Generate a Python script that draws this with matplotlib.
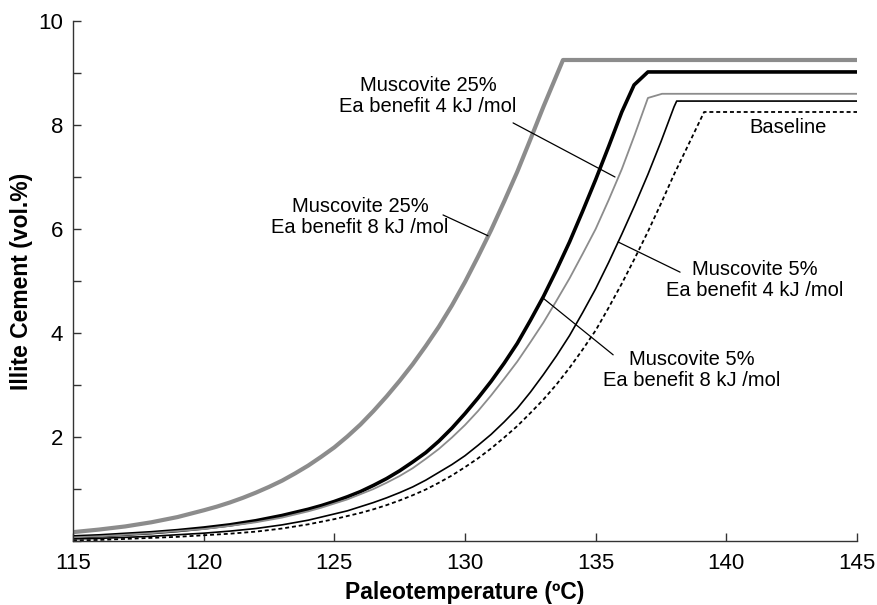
import matplotlib
matplotlib.use("Agg")
import matplotlib.pyplot as plt
from matplotlib.ticker import MultipleLocator

plt.rcParams['font.family'] = ['Liberation Sans', 'DejaVu Sans']

# paleotemperature (C) and illite cement (vol.%)
t_m25_8 = [115, 116, 117, 118, 119, 120, 120.5, 121, 121.5, 122, 122.5, 123,
           123.5, 124, 124.5, 125, 125.5, 126, 126.5, 127, 127.5, 128, 128.5,
           129, 129.5, 130, 130.5, 131, 131.5, 132, 132.5, 133, 133.75, 145]
v_m25_8 = [0.17, 0.22, 0.28, 0.36, 0.46, 0.59, 0.66, 0.74, 0.83, 0.93, 1.04,
           1.16, 1.3, 1.45, 1.62, 1.8, 2.01, 2.24, 2.5, 2.78, 3.08, 3.4, 3.75,
           4.12, 4.53, 4.98, 5.47, 5.98, 6.53, 7.1, 7.72, 8.35, 9.25, 9.25]

t_m5_8 = [115, 116, 117, 118, 119, 120, 121, 122, 123, 124, 124.5, 125,
          125.5, 126, 126.5, 127, 127.5, 128, 128.5, 129, 129.5, 130, 130.5,
          131, 131.5, 132, 132.5, 133, 133.5, 134, 134.5, 135, 135.5, 136,
          136.47, 137, 145]
v_m5_8 = [0.08, 0.1, 0.13, 0.16, 0.2, 0.25, 0.31, 0.39, 0.49, 0.61, 0.68,
          0.76, 0.85, 0.95, 1.07, 1.2, 1.35, 1.52, 1.7, 1.92, 2.17, 2.45,
          2.75, 3.07, 3.42, 3.8, 4.24, 4.7, 5.21, 5.75, 6.34, 6.95, 7.59,
          8.25, 8.77, 9.02, 9.02]

t_m25_4 = [115, 116, 117, 118, 119, 120, 121, 122, 123, 124, 124.5, 125,
           125.5, 126, 126.5, 127, 127.5, 128, 128.5, 129, 129.5, 130, 130.5,
           131, 131.5, 132, 132.5, 133, 133.5, 134, 134.5, 135, 135.5, 136,
           136.5, 137, 137.54, 145]
v_m25_4 = [0.07, 0.09, 0.12, 0.15, 0.19, 0.23, 0.29, 0.36, 0.45, 0.57, 0.64,
           0.72, 0.8, 0.9, 1.0, 1.12, 1.25, 1.4, 1.58, 1.77, 1.99, 2.23, 2.5,
           2.8, 3.12, 3.45, 3.82, 4.2, 4.62, 5.05, 5.52, 6.0, 6.56, 7.15,
           7.82, 8.52, 8.6, 8.6]

t_m5_4 = [115, 116, 117, 118, 119, 120, 121, 122, 123, 124, 124.5, 125,
          125.5, 126, 126.5, 127, 127.5, 128, 128.5, 129, 129.5, 130, 130.5,
          131, 131.5, 132, 132.5, 133, 133.5, 134, 134.5, 135, 135.5, 136,
          136.5, 137, 137.5, 138, 138.1, 145]
v_m5_4 = [0.04, 0.05, 0.07, 0.09, 0.12, 0.15, 0.19, 0.24, 0.31, 0.4, 0.46,
          0.52, 0.58, 0.66, 0.74, 0.83, 0.93, 1.04, 1.17, 1.32, 1.47, 1.64,
          1.84, 2.05, 2.29, 2.55, 2.86, 3.2, 3.56, 3.95, 4.39, 4.85, 5.36,
          5.9, 6.46, 7.05, 7.68, 8.35, 8.46, 8.46]

t_base = [115, 116, 117, 118, 119, 120, 121, 122, 123, 124, 124.5, 125,
          125.5, 126, 126.5, 127, 127.5, 128, 128.5, 129, 129.5, 130, 130.5,
          131, 131.5, 132, 132.5, 133, 133.5, 134, 134.5, 135, 135.5, 136,
          136.5, 137, 137.5, 138, 138.5, 139.15, 145]
v_base = [0.01, 0.02, 0.04, 0.06, 0.08, 0.11, 0.14, 0.18, 0.24, 0.32, 0.37,
          0.42, 0.48, 0.54, 0.61, 0.69, 0.78, 0.88, 0.99, 1.12, 1.26, 1.42,
          1.59, 1.78, 1.99, 2.21, 2.46, 2.72, 3.01, 3.33, 3.68, 4.05, 4.49,
          4.95, 5.44, 5.95, 6.49, 7.05, 7.57, 8.25, 8.25]

labels = [
    "Muscovite 25%\nEa benefit 4 kJ /mol",
    "Muscovite 25%\nEa benefit 8 kJ /mol",
    "Muscovite 5%\nEa benefit 4 kJ /mol",
    "Muscovite 5%\nEa benefit 8 kJ /mol",
    "Baseline",
]

grey = "#8c8c8c"

fig = plt.figure(figsize=(8.77, 6.05), dpi=100)
ax = fig.add_axes([0.0832, 0.1058, 0.894, 0.8595])

ax.plot(t_m25_8, v_m25_8, color=grey, lw=3.0)
ax.plot(t_m5_8, v_m5_8, color="black", lw=2.6)
ax.plot(t_m25_4, v_m25_4, color=grey, lw=1.3)
ax.plot(t_m5_4, v_m5_4, color="black", lw=1.2)
ax.plot(t_base, v_base, color="black", lw=1.3, ls=(0, (2.2, 1.6)))

# labels with leader lines
notes = [
    (labels[0], (128.59, 8.56), (131.84, 8.04), (135.74, 7.0)),
    (labels[1], (125.98, 6.23), (129.16, 6.27), (130.88, 5.87)),
    (labels[2], (141.1, 5.02), (138.23, 5.17), (135.86, 5.75)),
    (labels[3], (138.69, 3.29), (135.67, 3.58), (132.99, 4.67)),
]
for txt, pos, start, end in notes:
    ax.text(pos[0], pos[1], txt, ha='center', va='center', fontsize=14.5,
            linespacing=1.15)
    ax.annotate('', xy=end, xytext=start,
                arrowprops=dict(arrowstyle='-', lw=0.9, color='black',
                                shrinkA=0, shrinkB=0))
ax.text(142.36, 7.96, labels[4], ha='center', va='center', fontsize=14.5)

ax.set_xlim(115, 145)
ax.set_ylim(0, 10)
ax.set_xticks([115, 120, 125, 130, 135, 140, 145])
ax.set_yticks([2, 4, 6, 8, 10])
ax.yaxis.set_minor_locator(MultipleLocator(1))
ax.tick_params(axis='both', which='both', direction='in', length=6,
               width=1.0, labelsize=16, color='#333333')
ax.tick_params(axis='x', pad=9)
ax.tick_params(axis='y', pad=7)

for side in ['top', 'right']:
    ax.spines[side].set_visible(False)
for side in ['left', 'bottom']:
    ax.spines[side].set_color('#333333')
    ax.spines[side].set_linewidth(1.0)

ax.set_xlabel("Paleotemperature (ºC)", fontsize=16.5, fontweight='bold',
              labelpad=5)
ax.set_ylabel("Illite Cement (vol.%)", fontsize=16.5, fontweight='bold',
              labelpad=4)

fig.savefig("out.png", dpi=100)
